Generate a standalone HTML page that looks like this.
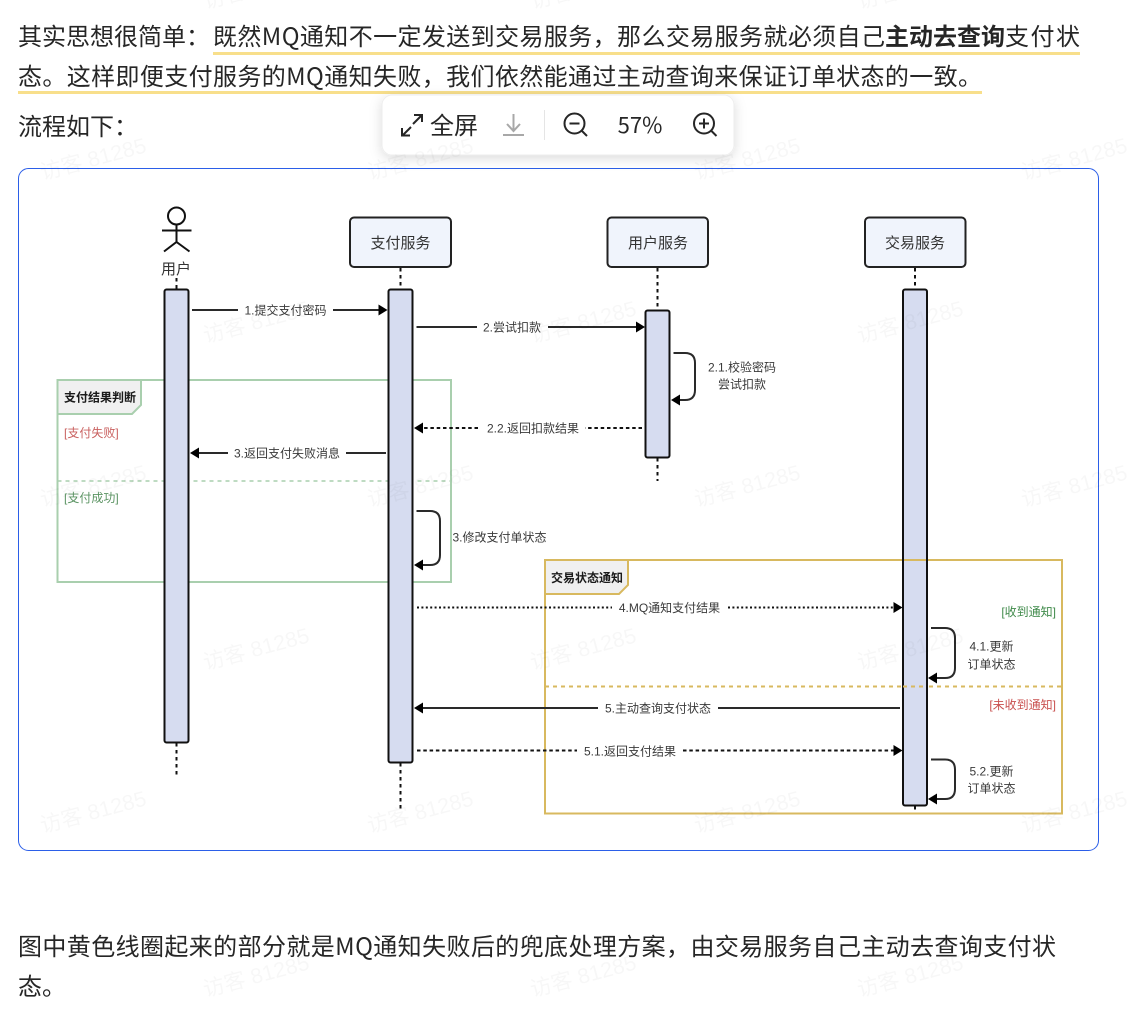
<!DOCTYPE html>
<html lang="zh">
<head>
<meta charset="utf-8">
<title>流程图</title>
<style>
html,body{margin:0;padding:0;background:#fff;width:1134px;height:1028px;overflow:hidden}
svg{display:block}
.b{font-family:"Noto Sans CJK SC","Liberation Sans",sans-serif;font-size:24px;fill:#262626}
.l{font-family:"Liberation Sans","Noto Sans CJK SC",sans-serif;font-size:12px;fill:#3a3a3a;text-anchor:middle}
.n{font-family:"Liberation Sans","Noto Sans CJK SC",sans-serif;font-size:15px;fill:#333;text-anchor:middle}
.h{font-family:"Liberation Sans","Noto Sans CJK SC",sans-serif;font-size:12px;font-weight:700;fill:#1a1a1a}
.f{font-family:"Liberation Sans","Noto Sans CJK SC",sans-serif;font-size:12px}
.w{font-family:"Liberation Sans","Noto Sans CJK SC",sans-serif;font-size:21.5px;fill:#000;fill-opacity:.03;text-anchor:middle}
.act{fill:#d6dcf0;stroke:#111;stroke-width:2}
.box{fill:#f0f4fc;stroke:#222;stroke-width:2}
.life{stroke:#111;stroke-width:2;stroke-dasharray:3.5 3.5;fill:none}
.s{stroke:#2a2a2a;stroke-width:2;fill:none}
.da{stroke:#111;stroke-width:2;stroke-dasharray:3.5 2.8;fill:none}
.do{stroke:#111;stroke-width:2;stroke-dasharray:2 2.4;fill:none}
</style>
</head>
<body>
<svg width="1134" height="1028" viewBox="0 0 1134 1028" xmlns="http://www.w3.org/2000/svg">
<defs>
<filter id="sh" x="-20%" y="-40%" width="140%" height="190%"><feDropShadow dx="0" dy="3" stdDeviation="6" flood-color="#000" flood-opacity=".14"/></filter>
</defs>
<rect width="1134" height="1028" fill="#fff"/>

<!-- highlight underlines -->
<rect x="213" y="52" width="867" height="3" fill="#f8df8b"/>
<rect x="18" y="91" width="964" height="3" fill="#f8df8b"/>

<!-- body text -->
<text class="b" x="18" y="45">其实思想很简单&#xFF1A;</text>
<text class="b" x="213" y="45" textLength="672">既然MQ通知不一定发送到交易服务&#xFF0C;那么交易服务就必须自己</text>
<text class="b" x="885" y="45" style="font-weight:700" textLength="120">主动去查询</text>
<text class="b" x="1005" y="45" textLength="75">支付状</text>
<text class="b" x="18" y="85" textLength="964">态。这样即便支付服务的MQ通知失败&#xFF0C;我们依然能通过主动查询来保证订单状态的一致。</text>
<text class="b" x="18" y="135">流程如下&#xFF1A;</text>
<text class="b" x="18" y="955" textLength="1038">图中黄色线圈起来的部分就是MQ通知失败后的兜底处理方案&#xFF0C;由交易服务自己主动去查询支付状</text>
<text class="b" x="18" y="995">态。</text>

<!-- card -->
<rect x="18.5" y="168.5" width="1080" height="682" rx="10" fill="#fff" stroke="#2b5ee8" stroke-width="1"/>

<!-- frames -->
<rect x="57.5" y="380" width="393.5" height="202" fill="none" stroke="#a9cfae" stroke-width="2"/>
<path d="M57.5 380H141V405L132 414H57.5Z" fill="#f0f0f0" stroke="#a9cfae" stroke-width="2"/>
<line x1="57.5" y1="481" x2="451" y2="481" stroke="#a9cfae" stroke-width="1.5" stroke-dasharray="4 4"/>
<text class="h" x="64" y="401.5">支付结果判断</text>
<text class="f" x="64" y="437" fill="#c9605f">[支付失败]</text>
<text class="f" x="64" y="502" fill="#5a9362">[支付成功]</text>

<rect x="545" y="560" width="517" height="253.5" fill="none" stroke="#d8b95f" stroke-width="2"/>
<path d="M545 560H628V585L619 594H545Z" fill="#f0f0f0" stroke="#d8b95f" stroke-width="2"/>
<line x1="545" y1="686.5" x2="1062" y2="686.5" stroke="#d8b95f" stroke-width="2" stroke-dasharray="4 4"/>
<text class="h" x="551" y="582">交易状态通知</text>
<text class="f" x="1056" y="616" text-anchor="end" fill="#3f8a4a">[收到通知]</text>
<text class="f" x="1056" y="709" text-anchor="end" fill="#c9504f">[未收到通知]</text>

<!-- actor -->
<circle cx="176.5" cy="216" r="8.5" fill="#fff" stroke="#111" stroke-width="2"/>
<path d="M176.5 224.5V242M162 230.5H191.5M164 251.5L176.5 242L189.5 251.5" fill="none" stroke="#111" stroke-width="2"/>
<text class="n" x="176" y="274">用户</text>

<!-- service boxes -->
<rect class="box" x="350" y="217.5" width="101" height="49.5" rx="4"/>
<rect class="box" x="607.5" y="217.5" width="100.5" height="49.5" rx="4"/>
<rect class="box" x="865" y="217.5" width="100.5" height="49.5" rx="4"/>
<text class="n" x="400.5" y="248">支付服务</text>
<text class="n" x="658" y="248">用户服务</text>
<text class="n" x="915" y="248">交易服务</text>

<!-- lifelines -->
<path class="life" d="M176.5 278V289M176.5 743V776"/>
<path class="life" d="M400.5 268V289M400.5 763V812"/>
<path class="life" d="M657.5 268V310M657.5 458V481"/>
<path class="life" d="M915 268V289M915 806V813"/>

<!-- activations -->
<rect class="act" x="164.5" y="289.5" width="24" height="453" rx="2"/>
<rect class="act" x="388.5" y="289.5" width="24" height="473" rx="2"/>
<rect class="act" x="645.5" y="310.5" width="24" height="147" rx="2"/>
<rect class="act" x="903" y="289.5" width="24" height="516" rx="2"/>

<line x1="903" y1="686.5" x2="927" y2="686.5" stroke="#d8b95f" stroke-width="2" stroke-dasharray="4 4"/>
<line x1="904" y1="560" x2="926" y2="560" stroke="#d8b95f" stroke-width="2"/>

<!-- 1 -->
<path class="s" d="M192 310H238M333 310H380"/>
<polygon points="387.5,310 378.5,304.5 378.5,315.5" fill="#000"/>
<text class="l" x="285.5" y="314.5">1.提交支付密码</text>
<!-- 2 -->
<path class="s" d="M416.5 327H477M548 327H638"/>
<polygon points="645,327 636,321.5 636,332.5" fill="#000"/>
<text class="l" x="512" y="331.5">2.尝试扣款</text>
<!-- 2.1 -->
<path class="s" d="M673.5 353H685Q695 353 695 363V390Q695 400 685 400H678"/>
<polygon points="671,400 680,394.5 680,405.5" fill="#000"/>
<text class="l" x="742" y="371.5">2.1.校验密码</text>
<text class="l" x="742" y="388.5">尝试扣款</text>
<!-- 2.2 -->
<path class="da" d="M642 428H585M478 428H421"/>
<polygon points="414,428 423,422.5 423,433.5" fill="#000"/>
<text class="l" x="533" y="432.5">2.2.返回扣款结果</text>
<!-- 3 return -->
<path class="s" d="M386 453H346M228 453H197"/>
<polygon points="190,453 199,447.5 199,458.5" fill="#000"/>
<text class="l" x="287" y="457.5">3.返回支付失败消息</text>
<!-- 3 self -->
<path class="s" d="M416.5 511H430Q440 511 440 521V555Q440 565 430 565H421"/>
<polygon points="414,565 423,559.5 423,570.5" fill="#000"/>
<text class="l" x="499.5" y="541.5">3.修改支付单状态</text>
<!-- 4 -->
<path class="do" d="M417 607.5H612M728 607.5H895"/>
<polygon points="902.5,607.5 893.5,602 893.5,613" fill="#000"/>
<text class="l" x="669.5" y="612">4.MQ通知支付结果</text>
<!-- 4.1 -->
<path class="s" d="M931 628H945Q955 628 955 638V668Q955 678 945 678H935"/>
<polygon points="928,678 937,672.5 937,683.5" fill="#000"/>
<text class="l" x="991.5" y="650.5">4.1.更新</text>
<text class="l" x="991.5" y="668.5">订单状态</text>
<!-- 5 -->
<path class="s" d="M900 708H718M598 708H421"/>
<polygon points="414,708 423,702.5 423,713.5" fill="#000"/>
<text class="l" x="658" y="712.5">5.主动查询支付状态</text>
<!-- 5.1 -->
<path class="da" d="M417 750.5H577M683 750.5H895"/>
<polygon points="902.5,750.5 893.5,745 893.5,756" fill="#000"/>
<text class="l" x="630" y="755.5">5.1.返回支付结果</text>
<!-- 5.2 -->
<path class="s" d="M931 759.5H945Q955 759.5 955 769.5V789Q955 799 945 799H935"/>
<polygon points="928,799 937,793.5 937,804.5" fill="#000"/>
<text class="l" x="991.5" y="775.5">5.2.更新</text>
<text class="l" x="991.5" y="792.5">订单状态</text>

<!-- toolbar -->
<rect x="382" y="95" width="352" height="60" rx="10" fill="#fff" stroke="#eee" stroke-width="1" filter="url(#sh)"/>
<g fill="none" stroke="#262626" stroke-width="2">
<path d="M413 124L421 116M414 115H422V122M403 135L411 127M402 128V135.5H410"/>
</g>
<text class="b" x="430" y="134">全屏</text>
<g fill="none" stroke="#a8a8a8" stroke-width="2">
<path d="M513.5 114V130M507 124L513.5 131L520 124M503 135H524"/>
</g>
<line x1="544.5" y1="110" x2="544.5" y2="140" stroke="#e5e5e5" stroke-width="1"/>
<g fill="none" stroke="#262626" stroke-width="2">
<circle cx="574.5" cy="123.5" r="10"/><path d="M582 131L587 136M569.5 123.5H579.5"/>
<circle cx="704" cy="123.5" r="10"/><path d="M711.5 131L716.5 136M699 123.5H709M704 118.5V128.5"/>
</g>
<text x="640" y="133" text-anchor="middle" font-family="Noto Sans CJK SC,Liberation Sans,sans-serif" font-size="22" fill="#262626">57%</text>

<!-- watermarks -->
<g transform="translate(0 -2)">
<text class="w" transform="translate(258 -3) rotate(-15)">访客 81285</text>
<text class="w" transform="translate(585 -3) rotate(-15)">访客 81285</text>
<text class="w" transform="translate(912 -3) rotate(-15)">访客 81285</text>
<text class="w" transform="translate(95 168) rotate(-15)">访客 81285</text>
<text class="w" transform="translate(422 168) rotate(-15)">访客 81285</text>
<text class="w" transform="translate(749 168) rotate(-15)">访客 81285</text>
<text class="w" transform="translate(1076 168) rotate(-15)">访客 81285</text>
<text class="w" transform="translate(258 331) rotate(-15)">访客 81285</text>
<text class="w" transform="translate(585 331) rotate(-15)">访客 81285</text>
<text class="w" transform="translate(912 331) rotate(-15)">访客 81285</text>
<text class="w" transform="translate(95 495) rotate(-15)">访客 81285</text>
<text class="w" transform="translate(422 495) rotate(-15)">访客 81285</text>
<text class="w" transform="translate(749 495) rotate(-15)">访客 81285</text>
<text class="w" transform="translate(1076 495) rotate(-15)">访客 81285</text>
<text class="w" transform="translate(258 658) rotate(-15)">访客 81285</text>
<text class="w" transform="translate(585 658) rotate(-15)">访客 81285</text>
<text class="w" transform="translate(912 658) rotate(-15)">访客 81285</text>
<text class="w" transform="translate(95 821) rotate(-15)">访客 81285</text>
<text class="w" transform="translate(422 821) rotate(-15)">访客 81285</text>
<text class="w" transform="translate(749 821) rotate(-15)">访客 81285</text>
<text class="w" transform="translate(1076 821) rotate(-15)">访客 81285</text>
<text class="w" transform="translate(258 985) rotate(-15)">访客 81285</text>
<text class="w" transform="translate(585 985) rotate(-15)">访客 81285</text>
<text class="w" transform="translate(912 985) rotate(-15)">访客 81285</text>
</g>
</svg>
</body>
</html>
